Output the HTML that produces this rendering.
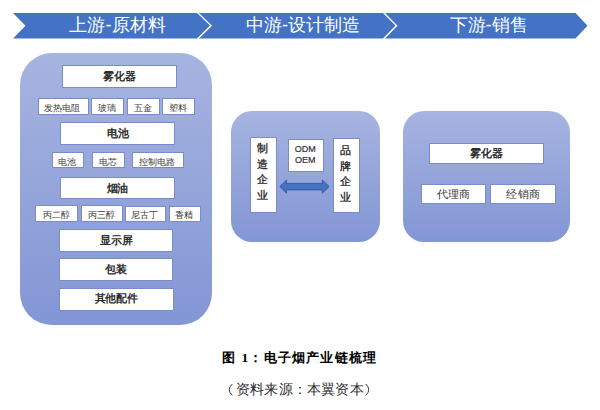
<!DOCTYPE html>
<html><head><meta charset="utf-8">
<style>
html,body{margin:0;padding:0;background:#fff;}
body{width:600px;height:410px;position:relative;overflow:hidden;font-family:"Liberation Sans",sans-serif;}
.a{position:absolute;box-sizing:border-box;}
.pl{position:absolute;background:linear-gradient(#a6b4e0,#8396d5);}
.bx{position:absolute;box-sizing:border-box;background:#fff;border:1px solid #7a8bc9;display:flex;align-items:center;justify-content:center;white-space:nowrap;line-height:1;}
.big{font-size:11.2px;font-weight:700;color:#2e2e2e;letter-spacing:-0.2px;}
.sm{font-size:9.2px;color:#383838;font-weight:400;}
.md{font-size:11.2px;color:#383838;font-weight:400;letter-spacing:0.2px;}
.cap{position:absolute;font-size:14px;color:#000;white-space:nowrap;line-height:18px;}
.bt{position:absolute;top:11.8px;height:25px;line-height:25px;color:#fff;font-size:18.3px;white-space:nowrap;text-align:center;}
.vt{position:absolute;font-size:10.8px;line-height:15.6px;color:#222;font-weight:400;-webkit-text-stroke:0.3px #222;text-align:center;white-space:normal;}
</style></head><body>
<svg class="a" style="left:0;top:0" width="600" height="50">
<polygon fill="#4472c4" points="13,13 197,13 210,25.5 197,38.5 13,38.5 25.5,25.75"/>
<polygon fill="#4472c4" points="199,13 383,13 395.5,25.5 383,38.5 199,38.5 212,25.75"/>
<polygon fill="#4472c4" points="385,13 575.5,13 587.5,25.75 575.5,38.5 385,38.5 397.5,25.75"/>
</svg>
<div class="bt" style="left:25px;width:185px">上游-原材料</div>
<div class="bt" style="left:211px;width:184px">中游-设计制造</div>
<div class="bt" style="left:393.6px;width:190px">下游-销售</div>
<div class="pl" style="left:20.2px;top:52.5px;width:191.8px;height:272.1px;border-radius:32px"></div>
<div class="bx big" style="left:61.9px;top:65.1px;width:114.8px;height:22.7px"><span style="position:relative;top:0px;left:0px">雾化器</span></div>
<div class="bx big" style="left:60.4px;top:122.3px;width:115px;height:22.4px"><span style="position:relative;top:0px;left:0px">电池</span></div>
<div class="bx big" style="left:59.8px;top:177.1px;width:115.2px;height:22.4px"><span style="position:relative;top:0px;left:0px">烟油</span></div>
<div class="bx big" style="left:58.8px;top:228.8px;width:114.7px;height:23px"><span style="position:relative;top:0px;left:0px">显示屏</span></div>
<div class="bx big" style="left:59px;top:257.9px;width:114.3px;height:23.1px"><span style="position:relative;top:0px;left:0px">包装</span></div>
<div class="bx big" style="left:59px;top:287.5px;width:114.6px;height:23.1px"><span style="position:relative;top:0px;left:0px">其他配件</span></div>
<div class="bx sm" style="left:37.5px;top:97.9px;width:51px;height:16.8px"><span style="position:relative;top:1.9px;left:-0.7px">发热电阻</span></div>
<div class="bx sm" style="left:91px;top:97.9px;width:32.65px;height:16.8px"><span style="position:relative;top:1.9px;left:-0.7px">玻璃</span></div>
<div class="bx sm" style="left:127px;top:98.2px;width:33.1px;height:16.9px"><span style="position:relative;top:1.9px;left:-0.7px">五金</span></div>
<div class="bx sm" style="left:162.15px;top:98.4px;width:33px;height:16.9px"><span style="position:relative;top:1.9px;left:-0.7px">塑料</span></div>
<div class="bx sm" style="left:51.6px;top:152.1px;width:32.2px;height:16.4px"><span style="position:relative;top:1.9px;left:-0.7px">电池</span></div>
<div class="bx sm" style="left:92.1px;top:152.2px;width:32.9px;height:16.2px"><span style="position:relative;top:1.9px;left:-0.7px">电芯</span></div>
<div class="bx sm" style="left:132.25px;top:152.4px;width:51.35px;height:15.9px"><span style="position:relative;top:1.9px;left:-0.7px">控制电路</span></div>
<div class="bx sm" style="left:35.2px;top:205.2px;width:43.3px;height:17px"><span style="position:relative;top:1.9px;left:-0.7px">丙二醇</span></div>
<div class="bx sm" style="left:81px;top:205.2px;width:41.8px;height:17px"><span style="position:relative;top:1.9px;left:-0.7px">丙三醇</span></div>
<div class="bx sm" style="left:125px;top:205.6px;width:40.5px;height:16.6px"><span style="position:relative;top:1.9px;left:-0.7px">尼古丁</span></div>
<div class="bx sm" style="left:168.5px;top:206px;width:32.3px;height:16.2px"><span style="position:relative;top:1.9px;left:-0.7px">香精</span></div>
<div class="pl" style="left:231px;top:110.8px;width:148.7px;height:130.9px;border-radius:21px"></div>
<div class="bx" style="left:250.1px;top:136.7px;width:27.4px;height:76px"></div>
<div class="vt" style="left:252.29999999999998px;top:141.3px;width:20px">制<br>造<br>企<br>业</div>
<div class="bx" style="left:288.3px;top:139.1px;width:35.45px;height:32.6px"></div>
<div class="a" style="left:287.6px;top:144.29999999999998px;width:35.45px;text-align:center;font-size:9px;line-height:11.1px;color:#333;-webkit-text-stroke:0.2px #333">ODM<br>OEM</div>
<div class="bx" style="left:333.4px;top:138px;width:26.6px;height:75.3px"></div>
<div class="vt" style="left:335.9px;top:143.10000000000002px;width:20px">品<br>牌<br>企<br>业</div>
<svg class="a" style="left:0;top:0" width="600" height="410">
<polygon fill="#4472c4" stroke="#34589c" stroke-width="0.9" points="279.8,186.6 286.5,180.1 286.5,183.4 322.4,183.4 322.4,180.1 329.1,186.6 322.4,193.2 322.4,189.9 286.5,189.9 286.5,193.2"/>
</svg>
<div class="pl" style="left:403.3px;top:110.7px;width:166.9px;height:130.9px;border-radius:21px"></div>
<div class="bx big" style="left:428.8px;top:143.2px;width:115.2px;height:21.3px"><span style="position:relative;top:0px;left:0px">雾化器</span></div>
<div class="bx md" style="left:421px;top:184px;width:65.3px;height:20px"><span style="position:relative;top:0.9px;left:0px">代理商</span></div>
<div class="bx md" style="left:490.3px;top:184px;width:66px;height:20px"><span style="position:relative;top:0.9px;left:0px">经销商</span></div>
<div class="cap" style="left:221.5px;top:348.8px;font-weight:bold;font-size:13.4px">图</div>
<div class="cap" style="left:241.5px;top:348.5px;font-weight:bold;font-family:'Liberation Serif',serif;font-size:13.4px">1</div>
<div class="cap" style="left:249px;top:348.8px;font-weight:bold;font-size:13.4px">：</div>
<div class="cap" style="left:263.9px;top:348.8px;font-weight:bold;letter-spacing:1.15px;font-size:13.4px">电子烟产业链梳理</div>
<svg class="a" style="left:0;top:370px" width="600" height="40"><path d="M232.3,14 Q226.2,19.6 232.3,25.4" fill="none" stroke="#333" stroke-width="1"/><path d="M365.7,14 Q371.8,19.6 365.7,25.4" fill="none" stroke="#333" stroke-width="1"/></svg>
<div class="cap" style="left:236px;top:380px;font-weight:400;color:#2a2a2a;letter-spacing:0.2px">资料来源：本翼资本</div>

</body></html>
